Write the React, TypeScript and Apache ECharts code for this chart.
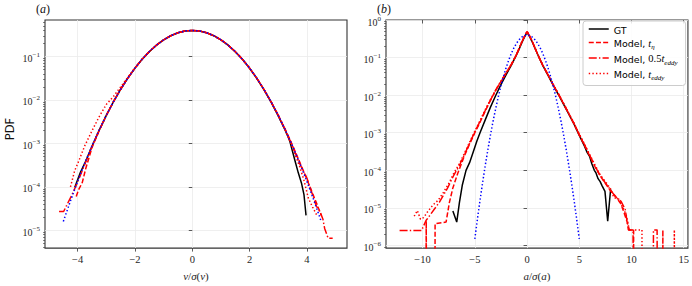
import React, { useEffect, useRef } from "react";
import * as echarts from "echarts";

type Pt = [number, number];

// ---------------- Panel (a): PDF of v/sigma(v) ----------------
const A_GT: Pt[] = [
  [-4.1, 9.8e-5], [-3.9, 2.2e-4], [-3.75, 3.5e-4], [-3.5, 8.6e-4], [-3.25, 2.0e-3],
  [-3.0, 4.4e-3], [-2.75, 9.1e-3], [-2.5, 1.76e-2], [-2.25, 3.18e-2], [-2.0, 5.4e-2],
  [-1.75, 8.6e-2], [-1.5, 0.129], [-1.25, 0.182], [-1.0, 0.241], [-0.75, 0.3],
  [-0.5, 0.351], [-0.25, 0.386], [0, 0.398], [0.25, 0.386], [0.5, 0.352],
  [0.75, 0.301], [1.0, 0.242], [1.25, 0.183], [1.5, 0.129], [1.75, 8.62e-2],
  [2.0, 5.38e-2], [2.25, 3.15e-2], [2.5, 1.73e-2], [2.75, 8.9e-3], [3.0, 4.3e-3],
  [3.25, 1.95e-3], [3.4, 1.15e-3], [3.58, 4.1e-4], [3.7, 2.1e-4], [3.81, 1.23e-4],
  [3.9, 6.5e-5], [3.97, 2.2e-5],
];
const A_T_ETA: Pt[] = [
  [-4.05, 6.0e-5], [-3.97, 8.5e-5], [-3.84, 1.25e-4], [-3.72, 2.6e-4], [-3.5, 8.0e-4],
  [-3.25, 1.95e-3], [-3.0, 4.4e-3], [-2.75, 9.2e-3], [-2.5, 1.77e-2], [-2.25, 3.18e-2],
  [-2.0, 5.4e-2], [-1.75, 8.63e-2], [-1.5, 0.1295], [-1.25, 0.1826], [-1.0, 0.242],
  [-0.75, 0.301], [-0.5, 0.352], [-0.25, 0.387], [0, 0.399], [0.25, 0.387],
  [0.5, 0.352], [0.75, 0.301], [1.0, 0.242], [1.25, 0.1826], [1.5, 0.1295],
  [1.75, 8.63e-2], [2.0, 5.4e-2], [2.25, 3.17e-2], [2.5, 1.75e-2], [2.75, 9.1e-3],
  [3.0, 4.45e-3], [3.25, 2.05e-3], [3.5, 9.0e-4], [3.75, 3.7e-4], [4.0, 1.5e-4],
  [4.2, 7.0e-5], [4.35, 4.0e-5], [4.5, 2.2e-5],
];
const A_HALF_EDDY: Pt[] = [
  [-4.65, 2.7e-5], [-4.49, 2.7e-5], [-4.38, 3.8e-5], [-4.2, 6.5e-5], [-4.0, 1.3e-4],
  [-3.75, 3.3e-4], [-3.5, 8.5e-4], [-3.25, 2.0e-3], [-3.0, 4.45e-3], [-2.75, 9.1e-3],
  [-2.5, 1.76e-2], [-2.25, 3.17e-2], [-2.0, 5.4e-2], [-1.75, 8.63e-2], [-1.5, 0.1295],
  [-1.25, 0.1826], [-1.0, 0.242], [-0.75, 0.301], [-0.5, 0.352], [-0.25, 0.387],
  [0, 0.399], [0.25, 0.387], [0.5, 0.352], [0.75, 0.301], [1.0, 0.242],
  [1.25, 0.1826], [1.5, 0.1295], [1.75, 8.63e-2], [2.0, 5.4e-2], [2.25, 3.17e-2],
  [2.5, 1.75e-2], [2.75, 9.1e-3], [3.0, 4.45e-3], [3.25, 2.04e-3], [3.5, 8.6e-4],
  [3.75, 3.4e-4], [4.0, 1.6e-4], [4.2, 6.5e-5], [4.33, 3.6e-5], [4.45, 2.8e-5],
  [4.56, 1.8e-5], [4.62, 1.1e-5], [4.74, 6.6e-6], [4.9, 6.6e-6],
];
const A_EDDY: Pt[] = [
  [-4.25, 1.0e-4], [-4.1, 2.4e-4], [-4.0, 3.4e-4], [-3.75, 8.9e-4], [-3.5, 1.95e-3],
  [-3.25, 4.1e-3], [-3.0, 7.9e-3], [-2.75, 1.2e-2], [-2.5, 2.0e-2], [-2.25, 3.3e-2],
  [-2.0, 5.5e-2], [-1.75, 8.7e-2], [-1.5, 0.13], [-1.25, 0.183], [-1.0, 0.242],
  [-0.75, 0.301], [-0.5, 0.352], [-0.25, 0.387], [0, 0.399], [0.25, 0.387],
  [0.5, 0.352], [0.75, 0.301], [1.0, 0.242], [1.25, 0.1826], [1.5, 0.1295],
  [1.75, 8.63e-2], [2.0, 5.4e-2], [2.25, 3.17e-2], [2.5, 1.75e-2], [2.75, 9.0e-3],
  [3.0, 4.4e-3], [3.25, 1.98e-3], [3.5, 8.0e-4], [3.75, 2.9e-4], [3.9, 1.4e-4],
  [4.05, 5.5e-5], [4.2, 3.4e-5], [4.35, 2.2e-5],
];
const A_GAUSS: Pt[] = [
  [-4.5, 1.6e-5], [-4.25, 4.77e-5], [-4.0, 1.34e-4], [-3.75, 3.53e-4], [-3.5, 8.73e-4],
  [-3.25, 2.03e-3], [-3.0, 4.43e-3], [-2.75, 9.08e-3], [-2.5, 1.75e-2], [-2.25, 3.17e-2],
  [-2.0, 5.4e-2], [-1.75, 8.63e-2], [-1.5, 0.1295], [-1.25, 0.1826], [-1.0, 0.242],
  [-0.75, 0.3011], [-0.5, 0.3521], [-0.25, 0.3867], [0, 0.3989], [0.25, 0.3867],
  [0.5, 0.3521], [0.75, 0.3011], [1.0, 0.242], [1.25, 0.1826], [1.5, 0.1295],
  [1.75, 8.63e-2], [2.0, 5.4e-2], [2.25, 3.17e-2], [2.5, 1.75e-2], [2.75, 9.08e-3],
  [3.0, 4.43e-3], [3.25, 2.03e-3], [3.5, 8.73e-4], [3.75, 3.53e-4], [4.0, 1.34e-4],
  [4.25, 4.77e-5], [4.5, 1.6e-5],
];

// ---------------- Panel (b): PDF of a/sigma(a) ----------------
const B_GT: Pt[] = [
  [-7.1, 8.3e-6], [-6.73, 4.2e-6], [-6.47, 1.4e-5], [-6.2, 4.0e-5], [-5.84, 1.0e-4],
  [-5.5, 1.6e-4], [-5.2, 2.8e-4], [-4.8, 6.0e-4], [-4.5, 1.0e-3], [-4.0, 2.2e-3],
  [-3.5, 4.8e-3], [-3.0, 9.8e-3], [-2.5, 1.9e-2], [-2.0, 3.5e-2], [-1.5, 6.3e-2],
  [-1.0, 0.12], [-0.75, 0.17], [-0.5, 0.25], [-0.25, 0.35], [0, 0.47],
  [0.25, 0.36], [0.5, 0.26], [0.75, 0.18], [1.0, 0.125], [1.5, 6.2e-2],
  [2.0, 3.4e-2], [2.5, 1.85e-2], [3.0, 1.04e-2], [3.5, 5.7e-3], [4.0, 3.1e-3],
  [4.5, 1.7e-3], [5.0, 8.5e-4], [5.5, 4.4e-4], [5.75, 3.0e-4], [6.0, 2.3e-4],
  [6.2, 1.5e-4], [6.44, 1.0e-4], [6.6, 8.5e-5], [6.8, 6.0e-5], [7.0, 5.0e-5],
  [7.2, 3.8e-5], [7.46, 2.75e-5], [7.72, 4.4e-6], [8.0, 3.1e-5],
];
const B_T_ETA: Pt[] = [
  [-9.75, 0], [-9.65, 4.5e-6], [-9.55, 0], [-8.85, 0], [-8.8, 3.8e-6],
  [-7.75, 4.2e-6], [-7.43, 1.4e-5], [-7.1, 3.4e-5], [-6.63, 8.3e-5], [-6.0, 2.4e-4],
  [-5.5, 5.0e-4], [-5.0, 1.0e-3], [-4.5, 1.9e-3], [-4.0, 3.8e-3], [-3.5, 7.3e-3],
  [-3.0, 1.35e-2], [-2.5, 2.3e-2], [-2.0, 3.9e-2], [-1.5, 6.6e-2], [-1.25, 8.8e-2],
  [-1.0, 0.122], [-0.75, 0.175], [-0.5, 0.26], [-0.25, 0.36], [0, 0.5],
  [0.25, 0.37], [0.5, 0.27], [0.75, 0.18], [1.0, 0.126], [1.25, 8.7e-2],
  [1.5, 6.3e-2], [2.0, 3.5e-2], [2.5, 1.9e-2], [3.0, 1.07e-2], [3.5, 5.9e-3],
  [4.0, 3.2e-3], [4.5, 1.7e-3], [5.0, 8.7e-4], [5.5, 4.7e-4], [6.0, 2.4e-4],
  [6.5, 1.26e-4], [7.0, 7.1e-5], [7.5, 4.5e-5], [8.0, 2.8e-5], [8.5, 2.0e-5],
  [9.0, 1.26e-5], [9.5, 5.0e-6], [9.8, 2.6e-6], [10.2, 2.6e-6], [10.25, 0],
  [12.95, 0], [13.0, 2.6e-6], [13.05, 0],
];
const B_HALF_EDDY: Pt[] = [
  [-12.2, 2.5e-6], [-10.1, 2.5e-6], [-9.67, 4.6e-6], [-8.4, 1.4e-5], [-7.6, 3.4e-5],
  [-7.0, 7.5e-5], [-6.5, 1.3e-4], [-6.0, 2.6e-4], [-5.5, 5.2e-4], [-5.0, 1.05e-3],
  [-4.5, 2.0e-3], [-4.0, 3.9e-3], [-3.5, 7.4e-3], [-3.0, 1.36e-2], [-2.5, 2.3e-2],
  [-2.0, 3.9e-2], [-1.5, 6.6e-2], [-1.0, 0.122], [-0.5, 0.26], [-0.25, 0.36],
  [0, 0.5], [0.25, 0.37], [0.5, 0.27], [1.0, 0.126], [1.5, 6.3e-2],
  [2.0, 3.5e-2], [2.5, 1.9e-2], [3.0, 1.08e-2], [3.5, 6.0e-3], [4.0, 3.2e-3],
  [4.5, 1.75e-3], [5.0, 8.9e-4], [5.5, 4.8e-4], [6.0, 2.5e-4], [6.5, 1.3e-4],
  [7.0, 7.3e-5], [7.5, 4.6e-5], [8.0, 3.0e-5], [8.5, 1.9e-5], [9.0, 1.5e-5],
  [9.4, 9.0e-6], [9.7, 2.6e-6], [10.15, 2.6e-6], [10.2, 0], [12.05, 0],
  [12.1, 2.6e-6], [12.45, 2.6e-6], [12.5, 0],
];
const B_EDDY: Pt[] = [
  [-10.8, 6.0e-6], [-10.5, 8.5e-6], [-10.2, 5.0e-6], [-9.9, 5.5e-6], [-9.5, 8.0e-6],
  [-9.0, 1.2e-5], [-8.5, 1.6e-5], [-8.0, 2.6e-5], [-7.5, 4.4e-5], [-7.0, 8.5e-5],
  [-6.5, 1.45e-4], [-6.0, 2.8e-4], [-5.5, 5.6e-4], [-5.0, 1.1e-3], [-4.5, 2.1e-3],
  [-4.0, 4.1e-3], [-3.5, 7.6e-3], [-3.0, 1.38e-2], [-2.5, 2.35e-2], [-2.0, 4.0e-2],
  [-1.5, 6.7e-2], [-1.0, 0.123], [-0.5, 0.26], [-0.25, 0.36], [0, 0.49],
  [0.25, 0.37], [0.5, 0.27], [1.0, 0.127], [1.5, 6.4e-2], [2.0, 3.55e-2],
  [2.5, 1.95e-2], [3.0, 1.1e-2], [3.5, 6.1e-3], [4.0, 3.3e-3], [4.5, 1.8e-3],
  [5.0, 9.2e-4], [5.5, 5.0e-4], [6.0, 2.6e-4], [6.5, 1.4e-4], [7.0, 7.6e-5],
  [7.5, 5.0e-5], [8.0, 3.2e-5], [8.3, 1.9e-5], [8.8, 1.7e-5], [9.2, 1.0e-5],
  [9.5, 6.3e-6], [9.7, 3.5e-6], [9.75, 2.6e-6], [11.0, 2.6e-6], [11.05, 0],
  [14.05, 0], [14.1, 2.6e-6], [14.15, 0],
];
const B_GAUSS: Pt[] = [
  [-5.0, 1.49e-6], [-4.75, 5.03e-6], [-4.5, 1.6e-5], [-4.25, 4.77e-5], [-4.0, 1.34e-4],
  [-3.75, 3.53e-4], [-3.5, 8.73e-4], [-3.25, 2.03e-3], [-3.0, 4.43e-3], [-2.75, 9.08e-3],
  [-2.5, 1.75e-2], [-2.25, 3.17e-2], [-2.0, 5.4e-2], [-1.75, 8.63e-2], [-1.5, 0.1295],
  [-1.25, 0.1826], [-1.0, 0.242], [-0.75, 0.3011], [-0.5, 0.3521], [-0.25, 0.3867],
  [0, 0.3989], [0.25, 0.3867], [0.5, 0.3521], [0.75, 0.3011], [1.0, 0.242],
  [1.25, 0.1826], [1.5, 0.1295], [1.75, 8.63e-2], [2.0, 5.4e-2], [2.25, 3.17e-2],
  [2.5, 1.75e-2], [2.75, 9.08e-3], [3.0, 4.43e-3], [3.25, 2.03e-3], [3.5, 8.73e-4],
  [3.75, 3.53e-4], [4.0, 1.34e-4], [4.25, 4.77e-5], [4.5, 1.6e-5], [4.75, 5.03e-6],
  [5.0, 1.49e-6],
];

// ---------------- Axes ----------------
const A_X_RANGE = [-5.14, 5.4];
const A_Y_LOG_RANGE = [-5.41, -0.16];
const B_X_RANGE = [-13.5, 15.4];
const B_Y_LOG_RANGE = [-6.07, 0];
const A_X_TICKS = [-4, -2, 0, 2, 4];
const B_X_TICKS = [-10, -5, 0, 5, 10, 15];
const A_Y_DECADES = [-5, -4, -3, -2, -1];
const B_Y_DECADES = [-6, -5, -4, -3, -2, -1, 0];
const MINOR_MULTIPLIERS = [2, 3, 4, 5, 6, 7, 8, 9];

const NAME_GT = "GT";
const NAME_ETA = "Model, t_eta";
const NAME_HALF = "Model, 0.5t_eddy";
const NAME_EDDY = "Model, t_eddy";

const SERIF = "'Liberation Serif', 'DejaVu Serif', serif";
const SANS = "'DejaVu Sans', sans-serif";
const ZERO_LOG = -12;
const TXT = "#262626";

const toLog = (pts: Pt[]) => pts.map(([x, p]) => [x, p > 0 ? Math.log10(p) : ZERO_LOG]);

const minorTicks = (range: number[]) => {
  const out: number[] = [];
  for (let n = Math.floor(range[0]); n <= Math.ceil(range[1]); n++) {
    for (const k of MINOR_MULTIPLIERS) {
      const v = n + Math.log10(k);
      if (v > range[0] && v < range[1]) out.push(v);
    }
  }
  return out;
};

const minusFmt = (v: number) => (v < 0 ? "\u2212" + -v : String(v));
const decadeFmt = (v: number) => {
  const e = Math.round(v);
  if (Math.abs(v - e) > 1e-6) return "";
  return `{b|10}{s|${e < 0 ? "\u2212" + -e : e}}`;
};

const yRich = {
  b: { fontFamily: SERIF, fontSize: 10, color: TXT, lineHeight: 14, verticalAlign: "bottom" },
  s: { fontFamily: SERIF, fontSize: 7, color: TXT, lineHeight: 14, verticalAlign: "top", padding: [2, 0, 0, 0] },
};
const mathRich = {
  i: { fontFamily: SERIF, fontSize: 11, fontStyle: "italic", color: TXT },
  r: { fontFamily: SERIF, fontSize: 11, color: TXT },
};
const titleRich = {
  p: { fontFamily: SERIF, fontSize: 12, color: "#111", fontWeight: "normal" },
  i: { fontFamily: SERIF, fontSize: 12, fontStyle: "italic", color: "#111", fontWeight: "normal" },
};

const LINE_STYLES: Record<string, any> = {
  [NAME_GT]: { color: "#000000", type: "solid" },
  [NAME_ETA]: { color: "#ff0000", type: [5, 2.2] },
  [NAME_HALF]: { color: "#ff0000", type: [8, 2.2, 1.4, 2.2] },
  [NAME_EDDY]: { color: "#ff0000", type: [1.4, 2.2] },
  Gaussian: { color: "#0000ff", type: [1.4, 2.2] },
};

const LEGEND_TEXT: Record<string, string> = {
  [NAME_GT]: "{s|GT}",
  [NAME_ETA]: "{s|Model, }{i|t}{sub|\u03b7}",
  [NAME_HALF]: "{s|Model, }{m|0.5}{i|t}{sub|eddy}",
  [NAME_EDDY]: "{s|Model, }{i|t}{sub|eddy}",
};

function makeSeries(name: string, pts: Pt[], panel: number) {
  const st = LINE_STYLES[name];
  return {
    type: "line",
    name,
    xAxisIndex: panel,
    yAxisIndex: panel,
    data: toLog(pts),
    symbol: "none",
    showSymbol: false,
    clip: true,
    silent: true,
    lineStyle: { color: st.color, width: 1.5, type: st.type, cap: "butt" },
    itemStyle: { color: st.color },
  };
}

function xAxisCfg(panel: number, range: number[], ticks: number[], nameRich: string) {
  return {
    type: "value",
    gridIndex: panel,
    min: range[0],
    max: range[1],
    splitNumber: 5,
    axisLine: { show: false },
    axisTick: { show: true, length: 3.5, customValues: ticks, lineStyle: { color: "#333", width: 0.8 } },
    axisLabel: {
      customValues: ticks,
      formatter: minusFmt,
      fontFamily: SERIF,
      fontSize: 10.5,
      color: TXT,
      margin: 6,
    },
    splitLine: { show: true, lineStyle: { color: "#ebebeb", width: 0.8 } },
    name: nameRich,
    nameLocation: "middle",
    nameGap: 17,
    nameTextStyle: { rich: mathRich, fontFamily: SERIF, fontSize: 11 },
  };
}

function yAxisCfg(panel: number, range: number[], decades: number[], withName: boolean) {
  return {
    type: "value",
    gridIndex: panel,
    min: range[0],
    max: range[1],
    splitNumber: 5,
    axisLine: { show: false },
    axisTick: { show: true, length: 3.5, customValues: decades, lineStyle: { color: "#333", width: 0.8 } },
    axisLabel: {
      customValues: decades,
      formatter: decadeFmt,
      rich: yRich,
      margin: 5,
    },
    splitLine: { show: true, lineStyle: { color: "#ebebeb", width: 0.8 } },
    ...(withName
      ? {
          name: "PDF",
          nameLocation: "middle",
          nameGap: 29,
          nameTextStyle: { fontFamily: SANS, fontSize: 11.5, color: "#111", padding: [0, 0, 0, 10] },
        }
      : {}),
  };
}

function minorAxisCfg(panel: number, range: number[]) {
  return {
    type: "value",
    gridIndex: panel,
    min: range[0],
    max: range[1],
    position: "left",
    axisLine: { show: false },
    axisLabel: { show: false },
    splitLine: { show: false },
    axisTick: { show: true, length: 2, customValues: minorTicks(range), lineStyle: { color: "#333", width: 0.6 } },
  };
}

function buildOption() {
  const gridBase = { top: 20, height: 233, width: 302, show: true, borderColor: "#333", borderWidth: 1.1, backgroundColor: "transparent" };
  return {
    animation: false,
    title: [
      {
        text: "{p|(}{i|a}{p|)}",
        left: 36,
        top: 3,
        padding: 0,
        textStyle: { fontFamily: SERIF, fontSize: 12, fontWeight: "normal", rich: titleRich },
      },
      {
        text: "{p|(}{i|b}{p|)}",
        left: 377,
        top: 3,
        padding: 0,
        textStyle: { fontFamily: SERIF, fontSize: 12, fontWeight: "normal", rich: titleRich },
      },
    ],
    grid: [
      { ...gridBase, left: 45 },
      { ...gridBase, left: 386 },
    ],
    xAxis: [
      xAxisCfg(0, A_X_RANGE, A_X_TICKS, "{i|v}{r|/}{i|\u03c3}{r|(}{i|v}{r|)}"),
      xAxisCfg(1, B_X_RANGE, B_X_TICKS, "{i|a}{r|/}{i|\u03c3}{r|(}{i|a}{r|)}"),
    ],
    yAxis: [
      yAxisCfg(0, A_Y_LOG_RANGE, A_Y_DECADES, true),
      yAxisCfg(1, B_Y_LOG_RANGE, B_Y_DECADES, false),
      minorAxisCfg(0, A_Y_LOG_RANGE),
      minorAxisCfg(1, B_Y_LOG_RANGE),
    ],
    legend: {
      data: [NAME_GT, NAME_ETA, NAME_HALF, NAME_EDDY],
      orient: "vertical",
      left: 583,
      top: 21,
      itemWidth: 20,
      itemHeight: 10,
      itemGap: 2.5,
      padding: [4, 8, 4, 5],
      selectedMode: false,
      backgroundColor: "rgba(255,255,255,0.85)",
      borderColor: "#cccccc",
      borderWidth: 1,
      borderRadius: 3,
      lineStyle: { width: 1.5 },
      itemStyle: { opacity: 0, borderWidth: 0 },
      formatter: (name: string) => LEGEND_TEXT[name] || name,
      textStyle: {
        fontFamily: SANS,
        fontSize: 9.5,
        color: "#000",
        rich: {
          s: { fontFamily: SANS, fontSize: 9.5, color: "#000", lineHeight: 12, verticalAlign: "bottom" },
          m: { fontFamily: SERIF, fontSize: 10.5, color: "#000", lineHeight: 12, verticalAlign: "bottom" },
          i: { fontFamily: SERIF, fontSize: 10.5, fontStyle: "italic", color: "#000", lineHeight: 12, verticalAlign: "bottom" },
          sub: { fontFamily: SERIF, fontSize: 7, fontStyle: "italic", color: "#000", lineHeight: 12, verticalAlign: "bottom", padding: [0, 0, -2, 0] },
        },
      },
    },
    series: [
      makeSeries(NAME_GT, A_GT, 0),
      makeSeries(NAME_ETA, A_T_ETA, 0),
      makeSeries(NAME_HALF, A_HALF_EDDY, 0),
      makeSeries(NAME_EDDY, A_EDDY, 0),
      makeSeries("Gaussian", A_GAUSS, 0),
      makeSeries(NAME_GT, B_GT, 1),
      makeSeries(NAME_ETA, B_T_ETA, 1),
      makeSeries(NAME_HALF, B_HALF_EDDY, 1),
      makeSeries(NAME_EDDY, B_EDDY, 1),
      makeSeries("Gaussian", B_GAUSS, 1),
    ],
  };
}

export default function App() {
  const ref = useRef<HTMLDivElement>(null);
  useEffect(() => {
    if (!ref.current) return;
    const chart = echarts.init(ref.current, undefined, { renderer: "svg" });
    chart.setOption(buildOption() as any);
    return () => chart.dispose();
  }, []);
  return (
    <div
      ref={ref}
      style={{ position: "fixed", left: 0, top: 0, width: 692, height: 286, background: "#fff" }}
    />
  );
}
